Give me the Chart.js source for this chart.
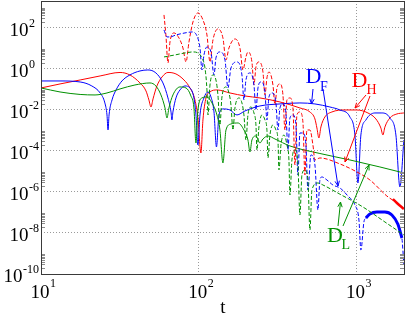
<!DOCTYPE html>
<html><head><meta charset="utf-8">
<script src="https://cdn.jsdelivr.net/npm/chart.js@4/dist/chart.umd.min.js"></script>
<style>html,body{margin:0;padding:0;background:#fff}canvas{display:block}</style>
</head><body>
<canvas id="c" width="407" height="314"></canvas>
<script>
// ---- tick / grid values ----
const xTickValues = [10, 100, 1000];
const yTickValues = [1e-10, 1e-8, 1e-6, 1e-4, 1e-2, 1, 1e2];
const xGridValues = [100, 1000];
const yGridValues = [1e-8, 1e-6, 1e-4, 1e-2, 1, 1e2];

// ---- D_H (red, solid) ----
const tDH = [10, 13.2, 17.7, 23.7, 31.7, 36.6, 42.4, 46.3, 48.3, 49.8, 51.3, 54.3, 58.5, 63.8, 71.7, 80.6, 88.0, 94.6, 98.8, 103.2, 106.3, 111.1, 117.8, 130.4, 157.6, 196.2, 244.3, 327, 437.8, 506.6, 545, 561, 577.7, 594.8, 630.5, 698.4, 844.2, 1006, 1181, 1327, 1427, 1470, 1514, 1628, 1803, 1997];
const DH = [0.116, 0.182, 0.284, 0.446, 0.66, 0.499, 0.203, 0.0828, 0.0302, 0.0137, 0.0338, 0.145, 0.398, 0.66, 0.558, 0.284, 0.116, 0.0302, 0.004, 7.88e-5, 0.0032, 0.0378, 0.074, 0.0927, 0.0662, 0.0472, 0.0378, 0.0241, 0.0123, 0.00785, 0.00358, 0.0013, 4.25e-4, 0.00146, 0.00448, 0.00785, 0.0098, 0.0098, 0.00702, 0.00358, 0.0013, 5.94e-4, 0.00146, 0.004, 0.00627, 0.00702];

// ---- D_F (blue, solid) ----
const tDF = [10, 13.2, 17.7, 21.0, 23.7, 25.4, 26.2, 26.6, 27.0, 28.2, 29.9, 32.6, 36.6, 42.4, 47.6, 53.5, 59.3, 63.8, 66.7, 67.6, 68.6, 71.7, 76.0, 81.8, 88.0, 93.2, 96.0, 98.8, 101.8, 107.9, 114.4, 119.5, 124.9, 129.5, 134.3, 142.3, 157.6, 174.6, 196.2, 244.3, 327, 437.8, 545, 678.3, 784.9, 908.2, 977, 1021, 1066, 1147, 1308, 1449, 1628, 1777, 1884, 1997];
const DF = [0.254, 0.254, 0.227, 0.145, 0.0662, 0.0216, 0.00561, 0.00104, 0.00561, 0.0302, 0.0927, 0.254, 0.499, 0.782, 0.874, 0.624, 0.203, 0.0378, 0.00785, 0.0032, 0.00785, 0.0378, 0.0927, 0.145, 0.116, 0.0378, 0.00561, 1.94e-4, 0.00561, 0.0378, 0.074, 0.0422, 0.00785, 1.55e-4, 0.00561, 0.011, 0.0098, 0.00561, 0.00878, 0.0154, 0.0193, 0.0216, 0.0193, 0.0137, 0.0098, 0.00448, 5.94e-4, 2.72e-6, 5.94e-4, 0.0032, 0.00702, 0.00702, 0.004, 5.94e-4, 1.74e-6, 3.39e-4];

// ---- D_L (green, solid) ----
const tDL = [10, 13.2, 17.7, 22.0, 26.2, 31.7, 39.4, 49.1, 53.5, 57.6, 61.1, 62.9, 64.7, 68.6, 76.0, 83.0, 89.2, 93.2, 96.0, 98.8, 104.8, 112.7, 121.3, 130.4, 136.2, 142.3, 148.8, 160.0, 177.2, 193.4, 205, 211.1, 217.3, 230.4, 244.3, 255.2, 274.5, 304, 378.4, 586.2, 908.2, 1407, 1997];
const DL = [0.116, 0.074, 0.056, 0.0529, 0.0662, 0.104, 0.162, 0.203, 0.145, 0.0529, 0.0123, 0.004, 0.0123, 0.0529, 0.13, 0.116, 0.0472, 0.0123, 2.42e-4, 0.0098, 0.0378, 0.0422, 0.0216, 0.00561, 0.00104, 2.57e-5, 0.00104, 0.00204, 0.00228, 0.00104, 3.39e-4, 8.82e-5, 3.39e-4, 5.31e-4, 2.42e-4, 3.79e-4, 5.31e-4, 3.79e-4, 1.73e-4, 7.43e-5, 3.6e-5, 1.64e-5, 8.36e-6];

// ---- red dashed ----
const tDHd = [60.2, 61.9, 63.8, 65.7, 69.6, 74.9, 79.4, 83.0, 86.7, 91.9, 98.8, 106.3, 112.7, 117.8, 123.0, 132.3, 142.3, 148.8, 155.4, 169.6, 182.4, 190.6, 199.1, 205.0, 217.3, 223.8, 230.4, 240.7, 255.2, 262.8, 270.5, 278.6, 295.3, 304.0, 313.1, 327.0, 341.7, 351.8, 362.2, 378.4, 395.4, 407.1, 419.1, 437.8, 457.4, 470.9, 484.8, 506.6, 529.3, 545.0, 586.2, 784.9, 1006, 1216, 1558, 1803, 1997];
const DHd = [419, 44.4, 1.92, 20.2, 55.6, 31.7, 10.3, 2.14, 20.2, 191, 524, 239, 44.4, 2.14, 25.3, 87, 31.7, 2.69, 10.3, 28.3, 10.3, 0.874, 3.76, 6.59, 2.14, 0.162, 1.22, 2.14, 0.699, 0.0529, 0.356, 0.699, 0.162, 0.0172, 0.116, 0.182, 0.0529, 0.00104, 0.0302, 0.0378, 0.0123, 2.05e-5, 0.00561, 0.00785, 0.00255, 6.68e-6, 0.00104, 0.00104, 1.94e-4, 3.6e-5, 4.5e-5, 2.3e-5, 9.35e-6, 3.81e-6, 6.3e-7, 2.88e-7, 1.47e-7];
const tDHdTail = [1701, 1803, 1997];
const DHdTail = [4.5e-7, 2.88e-7, 1.47e-7];

// ---- blue dashed ----
const tDFd = [60.2, 62.9, 65.7, 71.7, 81.8, 90.6, 97.4, 101.8, 104.8, 107.9, 112.7, 119.5, 124.9, 128.5, 136.2, 146.6, 153.1, 160.0, 174.6, 187.8, 193.4, 199.1, 211.1, 223.8, 230.4, 237.3, 247.9, 262.8, 270.5, 278.6, 291.0, 308.5, 317.7, 327.0, 341.7, 356.9, 367.6, 378.4, 395.4, 413.0, 425.3, 437.8, 457.4, 477.9, 492.0, 514.0, 545.0, 569.3, 586.2, 603.5, 649.2, 708.7, 784.9, 882.0, 977.0, 1036, 1066, 1114, 1147, 1216, 1347, 1514, 1676, 1830, 1940, 1997];
const DFd = [77.8, 35.5, 35.5, 44.4, 55.6, 62.1, 39.7, 10.3, 0.874, 4.71, 11.5, 6.59, 0.499, 3.36, 6.59, 2.69, 0.116, 1.09, 2.14, 0.499, 0.0302, 0.284, 0.624, 0.162, 0.0098, 0.116, 0.227, 0.074, 0.0032, 0.0422, 0.0662, 0.0216, 0.00104, 0.0123, 0.0193, 0.00702, 1.1e-4, 0.004, 0.00561, 0.00182, 6.68e-6, 7.43e-4, 7.43e-4, 1.94e-4, 1.24e-6, 6.3e-5, 2.05e-5, 1.32e-7, 3.81e-6, 5.34e-6, 3.81e-6, 2.17e-6, 1.55e-6, 6.33e-7, 2.31e-7, 4.28e-8, 1.48e-9, 3.42e-8, 5.35e-8, 8.4e-8, 1.05e-7, 1.05e-7, 7.5e-8, 2.67e-8, 5.68e-9, 2.75e-10];
const tDFdTail = [1147, 1216, 1347, 1514, 1676, 1830, 1940];
const DFdTail = [5.35e-8, 8.4e-8, 1.05e-7, 1.05e-7, 7.5e-8, 2.67e-8, 5.68e-9];

// ---- green dashed ----
const tDLd = [60.2, 70.7, 81.8, 91.9, 98.8, 104.8, 109.5, 112.7, 114.4, 117.8, 123.0, 128.5, 132.3, 136.2, 140.3, 148.8, 155.4, 160.0, 164.7, 169.6, 179.8, 187.8, 193.4, 199.1, 205.0, 214.2, 223.8, 230.4, 233.8, 240.7, 251.5, 262.8, 270.5, 274.5, 282.6, 295.3, 308.5, 317.7, 322.3, 331.9, 346.7, 362.2, 372.9, 378.4, 389.6, 407.1, 425.3, 437.8, 450.8, 470.9, 492.0, 506.6, 521.6, 569.3, 612.6, 784.9, 1098, 1514, 1997];
const DLd = [3.76, 4.71, 5.89, 6.59, 5.89, 3.36, 1.09, 0.0927, 0.00561, 0.162, 0.499, 0.284, 0.0529, 0.00182, 0.0422, 0.13, 0.0662, 0.0172, 0.00104, 0.0123, 0.0378, 0.0216, 0.00561, 3.39e-4, 0.00561, 0.0137, 0.00702, 0.00182, 1.1e-4, 0.00146, 0.00561, 0.0032, 0.00104, 4.5e-5, 5.94e-4, 0.00182, 0.00104, 3.39e-4, 1.17e-5, 1.94e-4, 5.94e-4, 1.94e-4, 3.6e-5, 7.08e-7, 3.6e-5, 1.1e-4, 2.05e-5, 7.5e-8, 6.68e-6, 1.17e-5, 3.81e-6, 1.39e-8, 1.24e-6, 2.72e-6, 2.17e-6, 7.74e-7, 1.84e-7, 3.42e-8, 7.96e-9];

// ---- styling ----
const RED = '#ff0000', BLUE = '#0000ff', GREEN = '#009000';
const SERIF = '"Liberation Serif", "Times New Roman", "DejaVu Serif", serif';

function pts(ts, vs) { return ts.map((t, i) => ({ x: t, y: vs[i] })); }
function ds(ts, vs, color, dashed, width) {
  return {
    data: pts(ts, vs), borderColor: color, backgroundColor: color,
    borderWidth: width || 1, borderDash: dashed ? [4, 2] : [],
    showLine: true, pointRadius: 0, fill: false,
    cubicInterpolationMode: 'monotone'
  };
}

const labelPlugin = {
  id: 'labelPlugin',
  afterDraw(chart) {
    const { ctx, chartArea: a, scales: { x, y } } = chart;
    ctx.save();
    // minor ticks on left / right edges
    ctx.strokeStyle = '#8c8c8c'; ctx.lineWidth = 1; ctx.setLineDash([]);
    for (const v of yTickValues) {
      for (let k = 2; k <= 9; k++) {
        const py = Math.round(y.getPixelForValue(k * v)) + 0.5;
        if (py < a.top || py > a.bottom) continue;
        ctx.beginPath();
        ctx.moveTo(a.left, py); ctx.lineTo(a.left + 4, py);
        ctx.moveTo(a.right - 4, py); ctx.lineTo(a.right, py);
        ctx.stroke();
      }
    }
    // frame
    ctx.strokeStyle = '#3a3a3a';
    ctx.strokeRect(Math.round(a.left) + 0.5, Math.round(a.top) + 0.5,
                   Math.round(a.right - a.left), Math.round(a.bottom - a.top));
    // y tick labels
    ctx.fillStyle = '#000'; ctx.textBaseline = 'alphabetic';
    for (const v of yTickValues) {
      const e = String(Math.round(Math.log10(v)));
      const py = y.getPixelForValue(v);
      ctx.font = '12px ' + SERIF;
      const ws = ctx.measureText(e).width;
      const xr = Math.min(a.left - 12.5, a.left - 2.5 - ws);
      ctx.font = '19px ' + SERIF; ctx.textAlign = 'right';
      ctx.fillText('10', xr, py + 8);
      ctx.font = '12px ' + SERIF; ctx.textAlign = 'left';
      ctx.fillText(e, xr + 0.5, py - 1);
    }
    // x tick labels
    for (const v of xTickValues) {
      const e = String(Math.round(Math.log10(v)));
      const px = x.getPixelForValue(v);
      ctx.font = '19px ' + SERIF; ctx.textAlign = 'center';
      ctx.fillText('10', px - 1, a.bottom + 24);
      const w = ctx.measureText('10').width;
      ctx.font = '12px ' + SERIF; ctx.textAlign = 'left';
      ctx.fillText(e, px - 1 + w / 2 + 0.5, a.bottom + 13);
    }
    // axis title
    ctx.font = '19px ' + SERIF; ctx.textAlign = 'center';
    ctx.fillText('t', (a.left + a.right) / 2 + 0.5, a.bottom + 39);

    // annotations
    function arrow(x1, y1, x2, y2, color) {
      ctx.strokeStyle = color; ctx.lineWidth = 1;
      ctx.beginPath(); ctx.moveTo(x1, y1); ctx.lineTo(x2, y2); ctx.stroke();
      const ang = Math.atan2(y2 - y1, x2 - x1), L = 5, W = 2.2;
      const bx = x2 - L * Math.cos(ang), by = y2 - L * Math.sin(ang);
      ctx.beginPath();
      ctx.moveTo(bx + W * Math.sin(ang), by - W * Math.cos(ang));
      ctx.lineTo(x2, y2);
      ctx.lineTo(bx - W * Math.sin(ang), by + W * Math.cos(ang));
      ctx.stroke();
    }
    function sublabel(main, sub, xm, ym, xs, ys, color) {
      ctx.fillStyle = color; ctx.textAlign = 'left';
      ctx.font = '22px ' + SERIF; ctx.fillText(main, xm, ym);
      ctx.font = '14px ' + SERIF; ctx.fillText(sub, xs, ys);
    }
    sublabel('D', 'F', 305.5, 83, 320, 91, BLUE);
    arrow(313, 89, 311.5, 104, BLUE);
    arrow(323, 89, 338, 186, BLUE);
    sublabel('D', 'H', 351.5, 87, 366.5, 93.5, RED);
    arrow(366, 95, 355, 108, RED);
    arrow(370, 96, 345, 162, RED);
    sublabel('D', 'L', 327, 242, 341.5, 249, GREEN);
    arrow(338, 226, 340.5, 202, GREEN);
    arrow(343, 226, 369, 165, GREEN);
    ctx.restore();
  }
};

new Chart(document.getElementById('c'), {
  type: 'scatter',
  data: {
    datasets: [
      ds(tDLd, DLd, GREEN, true),
      ds(tDFd, DFd, BLUE, true),
      ds(tDFdTail, DFdTail, BLUE, false, 3),
      ds(tDHd, DHd, RED, true),
      ds(tDHdTail, DHdTail, RED, false, 2.5),
      ds(tDL, DL, GREEN, false),
      ds(tDF, DF, BLUE, false),
      ds(tDH, DH, RED, false)
    ]
  },
  options: {
    responsive: false, animation: false, devicePixelRatio: 1,
    layout: { padding: { left: 41, right: 3, top: 1, bottom: 40 } },
    plugins: { legend: { display: false }, tooltip: { enabled: false } },
    scales: {
      x: {
        type: 'logarithmic', min: 10, max: 2000, bounds: 'data',
        afterBuildTicks: s => { s.ticks = xGridValues.map(v => ({ value: v })); },
        ticks: { display: false },
        grid: { drawTicks: false, color: '#9a9a9a', lineWidth: 1 },
        border: { display: false, dash: [1, 2] }
      },
      y: {
        type: 'logarithmic', min: 1e-10, max: 2000, bounds: 'data',
        afterBuildTicks: s => { s.ticks = yGridValues.map(v => ({ value: v })); },
        ticks: { display: false },
        grid: { drawTicks: false, color: '#9a9a9a', lineWidth: 1 },
        border: { display: false, dash: [1, 2] }
      }
    }
  },
  plugins: [labelPlugin]
});
</script>
</body></html>
